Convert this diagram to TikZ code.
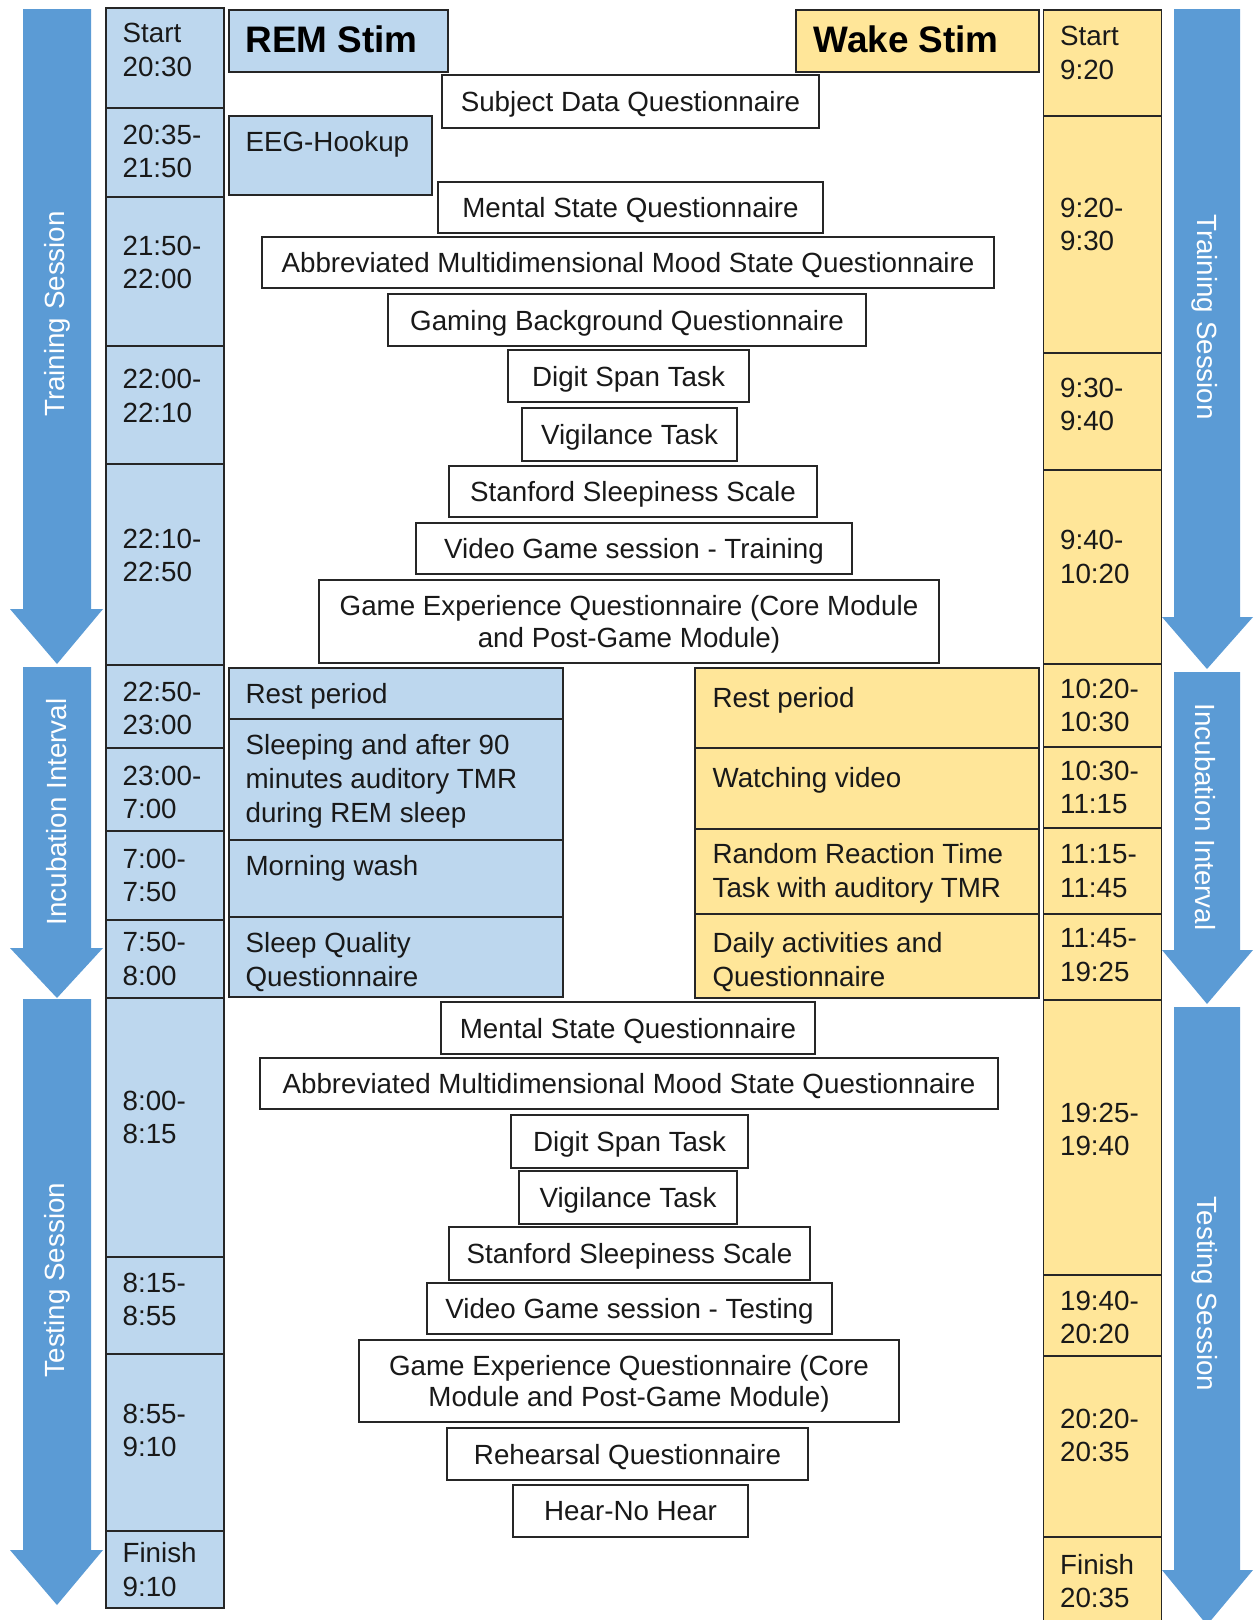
\documentclass[tikz,border=0pt]{standalone}
\usepackage{fontspec}
\setmainfont{Liberation Sans}

\definecolor{arrowblue}{RGB}{91,155,213}
\definecolor{remblue}{RGB}{189,215,238}
\definecolor{wakeyellow}{RGB}{255,230,153}

\tikzset{
  every node/.style={font=\fontsize{15.8}{18.1}\selectfont, text=black!90},
  framed/.style={draw=black!85, line width=0.85pt},
  timecell/.style={framed, minimum width=2.36cm, inner sep=0pt},
  timetext/.style={anchor=west, inner sep=0pt, align=left, font=\fontsize{15.8}{19.2}\selectfont},
  taskbox/.style={framed, fill=white, inner sep=0pt, align=center, text depth=0pt},
  stimbox/.style={framed, inner sep=0pt},
  stimtext/.style={anchor=north west, inner sep=0pt, align=left, font=\fontsize{15.8}{19.4}\selectfont},
  headtext/.style={font=\fontsize{21}{24}\selectfont\bfseries, text=black, inner sep=0pt, anchor=west},
  phase/.style={text=white, inner sep=0pt},
}

\begin{document}
\begin{tikzpicture}[x=0.02cm, y=-0.02cm]
  \useasboundingbox (0,0) rectangle (1259,1620);

  % 1. Phase arrows (left side and right side)
  \foreach \ya/\yh/\ye in {9/609/664, 667/948/998, 999/1550/1605}
    \fill[arrowblue] (23,\ya) -- (91,\ya) -- (91,\yh) -- (103,\yh) -- (57,\ye) -- (10,\yh) -- (23,\yh) -- cycle;
  \foreach \ya/\yh/\ye in {9/617/669, 672/950/1004, 1007/1570/1625}
    \fill[arrowblue] (1174,\ya) -- (1240,\ya) -- (1240,\yh) -- (1253,\yh) -- (1207,\ye) -- (1162,\yh) -- (1174,\yh) -- cycle;

  % labels on the arrows
  \node[phase, rotate=90] (trainL) at (57,314) {Training Session};
  \node[phase, rotate=90] (incubL) at (57,812) {Incubation Interval};
  \node[phase, rotate=90] (testL) at (57,1280) {Testing Session};
  \node[phase, rotate=-90] (trainR) at (1205,317) {Training Session};
  \node[phase, rotate=-90] (incubR) at (1205,817) {Incubation Interval};
  \node[phase, rotate=-90] (testR) at (1205,1294) {Testing Session};

  % 2. Time columns (top/bottom/lift of the text)
  \foreach \ya/\yb/\dy/\txt [count=\i] in {8/108/8/{Start\\20:30}, 108/197/1/{20:35-\\21:50},
      197/346/9/{21:50-\\22:00}, 346/464/9/{22:00-\\22:10}, 464/665/9/{22:10-\\22:50},
      665/748/-2/{22:50-\\23:00}, 748/831/-3/{23:00-\\7:00}, 831/920/0/{7:00-\\7:50},
      920/998/0/{7:50-\\8:00}, 998/1257/10/{8:00-\\8:15}, 1257/1354/6/{8:15-\\8:55},
      1354/1531/12/{8:55-\\9:10}, 1531/1608/0/{Finish\\9:10}}
  {
    \node[timecell, fill=remblue, minimum height={(\yb-\ya)*0.02cm}] (remtime\i) at (165,{(\ya+\yb)/2}) {};
    \node[timetext] (remtimetx\i) at ([shift={(17,-\dy)}]remtime\i.west) {\txt};
  }

  \foreach \ya/\yb/\dy/\txt [count=\i] in {10/116/10/{Start\\9:20}, 116/353/10/{9:20-\\9:30},
      353/470/7/{9:30-\\9:40}, 470/664/10/{9:40-\\10:20}, 664/747/0/{10:20-\\10:30},
      747/828/0/{10:30-\\11:15}, 828/914/0/{11:15-\\11:45}, 914/1000/2/{11:45-\\19:25},
      1000/1275/8/{19:25-\\19:40}, 1275/1356/-2/{19:40-\\20:20}, 1356/1537/11/{20:20-\\20:35},
      1537/1625/0/{Finish\\20:35}}
  {
    \node[timecell, fill=wakeyellow, minimum height={(\yb-\ya)*0.02cm}] (waketime\i) at (1102.5,{(\ya+\yb)/2}) {};
    \node[timetext] (waketimetx\i) at ([shift={(17,-\dy)}]waketime\i.west) {\txt};
  }

  % 3. Condition headers
  \node[stimbox, fill=remblue, minimum width={219*0.02cm}, minimum height={62*0.02cm}] (remhead) at (338.5,41) {};
  \node[headtext] (remheadtx) at ([shift={(17,-2)}]remhead.west) {REM Stim};
  \node[stimbox, fill=wakeyellow, minimum width={243*0.02cm}, minimum height={62*0.02cm}] (wakehead) at (917.5,41) {};
  \node[headtext] (wakeheadtx) at ([shift={(18,-2)}]wakehead.west) {Wake Stim};

  % 4. REM Stim activities
  \foreach \xa/\ya/\xb/\yb/\txt [count=\i] in {229/116/432/195/{EEG-Hookup},
      229/668/563/719/{Rest period},
      229/719/563/840/{Sleeping and after 90\\minutes auditory TMR\\during REM sleep},
      229/840/563/917/{Morning wash}, 229/917/563/997/{Sleep Quality\\Questionnaire}}
  {
    \node[stimbox, fill=remblue, minimum width={(\xb-\xa)*0.02cm}, minimum height={(\yb-\ya)*0.02cm}] (remact\i) at ({(\xa+\xb)/2},{(\ya+\yb)/2}) {};
    \node[stimtext] (remacttx\i) at ([shift={(17,16)}]remact\i.north west) {\txt};
  }

  % 5. Wake Stim activities
  \foreach \ya/\yb/\dy/\txt [count=\i] in {668/748/20/{Rest period}, 748/829/20/{Watching video},
      829/914/15/{Random Reaction Time\\Task with auditory TMR},
      914/998/19/{Daily activities and\\Questionnaire}}
  {
    \node[stimbox, fill=wakeyellow, minimum width={344*0.02cm}, minimum height={(\yb-\ya)*0.02cm}] (wakeact\i) at (867,{(\ya+\yb)/2}) {};
    \node[stimtext] (wakeacttx\i) at ([shift={(18,\dy)}]wakeact\i.north west) {\txt};
  }

  % 6. Shared tasks (training and testing)
  \foreach \xa/\ya/\xb/\yb/\txt [count=\i] in {
      442/75/819/128/{Subject Data Questionnaire},
      438/182/823/233/{Mental State Questionnaire},
      262/237/994/288/{Abbreviated Multidimensional Mood State Questionnaire},
      388/294/866/346/{Gaming Background Questionnaire},
      508/350/749/402/{Digit Span Task},
      522/408/737/461/{Vigilance Task},
      449/466/817/517/{Stanford Sleepiness Scale},
      416/523/852/574/{Video Game session - Training},
      319/580/939/663/{Game Experience Questionnaire (Core Module\\and Post-Game Module)},
      441/1002/815/1054/{Mental State Questionnaire},
      260/1058/998/1109/{Abbreviated Multidimensional Mood State Questionnaire},
      511/1115/748/1168/{Digit Span Task},
      519/1171/737/1224/{Vigilance Task},
      449/1227/810/1280/{Stanford Sleepiness Scale},
      427/1283/832/1334/{Video Game session - Testing},
      359/1340/899/1422/{Game Experience Questionnaire (Core\\Module and Post-Game Module)},
      447/1428/808/1480/{Rehearsal Questionnaire},
      513/1485/748/1537/{Hear-No Hear}}
    \node[taskbox, minimum width={(\xb-\xa)*0.02cm}, minimum height={(\yb-\ya)*0.02cm}] (task\i) at ({(\xa+\xb)/2},{(\ya+\yb)/2}) {\txt};
\end{tikzpicture}
\end{document}
